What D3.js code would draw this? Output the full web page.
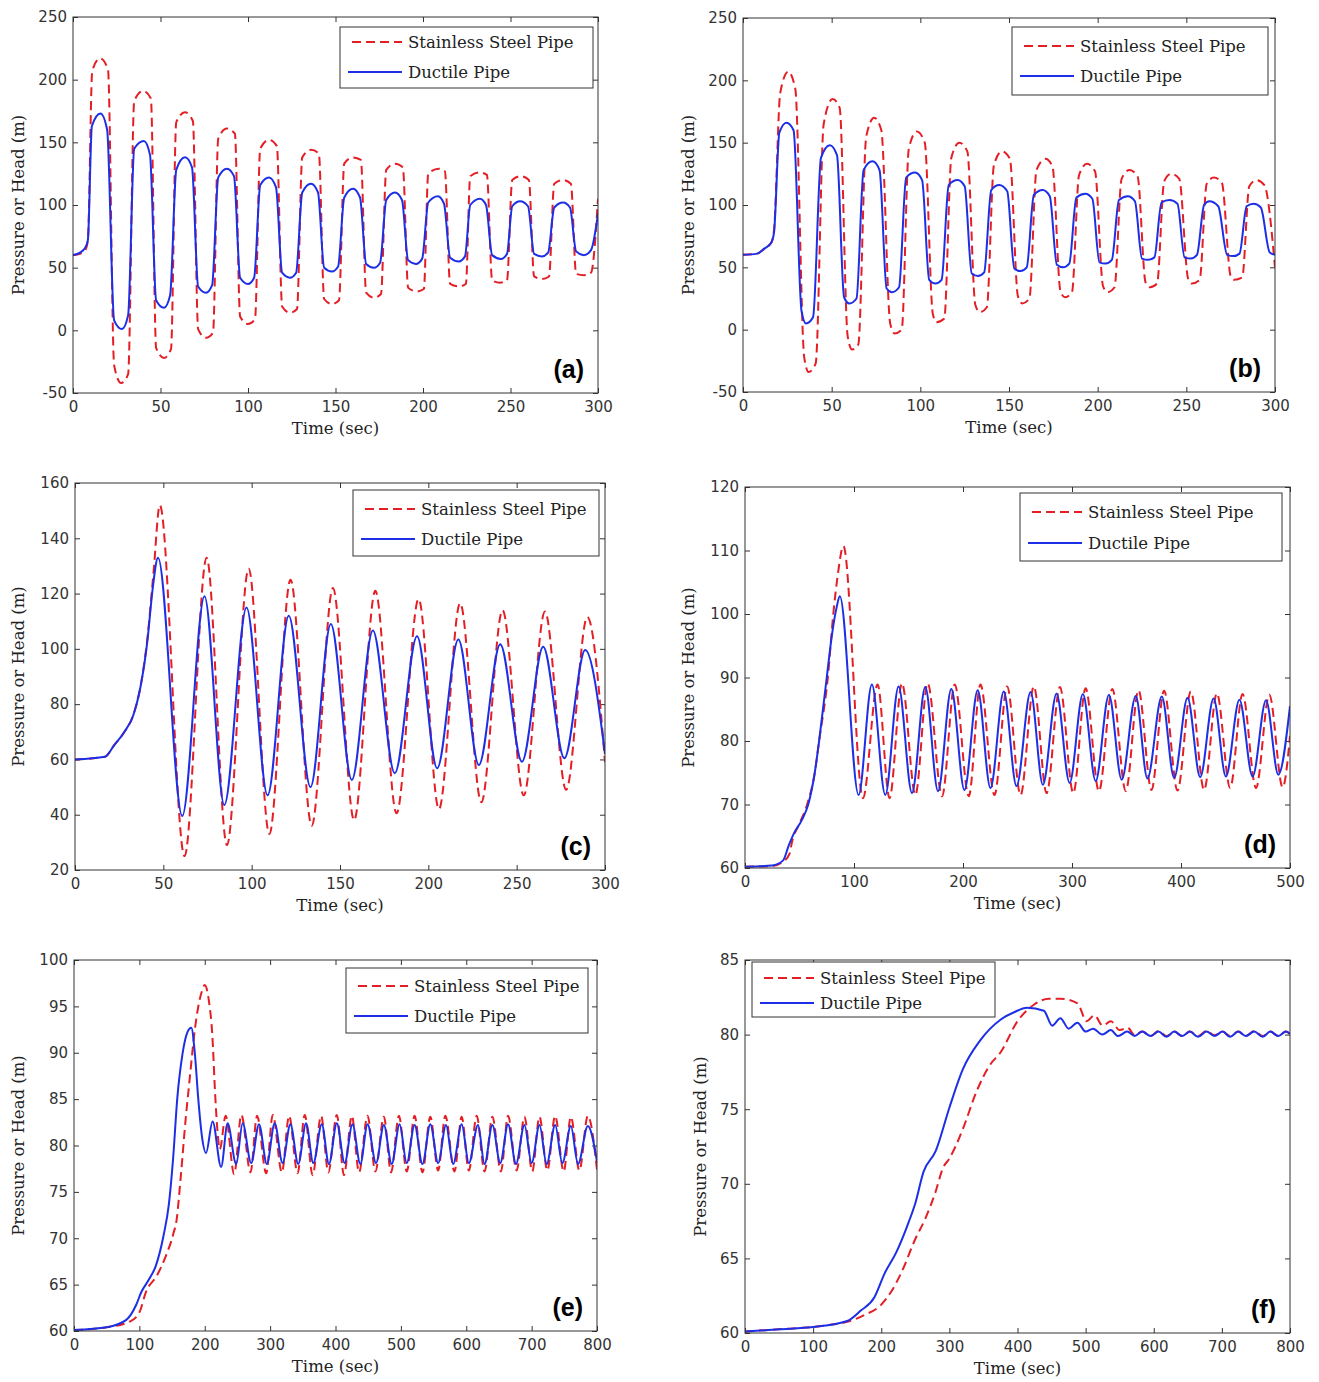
<!DOCTYPE html>
<html>
<head>
<meta charset="utf-8">
<script src="https://cdn.jsdelivr.net/npm/d3@7"></script>
<style>
  body { margin: 0; background: #fff; }
  svg { display: block; }
</style>
</head>
<body>
<svg id="fig" width="1319" height="1382"></svg>
<script>
// values, [time (sec), head (m)]
var steelA = [[0,60],[4,61],[7,64],[8.5,72],[11,207],[15.5,217],[20,208],[23.5,-28],[27.5,-42],[31.5,-35],[35,183],[40,191],[44.5,185],[47.5,-14],[52,-22],[56,-15],[59,166],[64,174],[68.5,167],[71.5,1],[76,-6],[80,-2],[83,153],[88,161],[92.5,157],[95.5,11],[100,5],[104,9],[107,145],[112,152],[116.5,147],[119.5,19],[124,14],[128,17],[131,138],[136,144],[140.5,141],[143.5,25],[148,21],[152,24],[155,133],[160,138],[164.5,136],[167.5,30],[172,26],[176,29],[179,128],[184,133],[188.5,130],[191.5,34],[196.5,31],[200.5,33],[203,125],[209,129],[212.5,127],[215.5,37],[220.5,35],[224.5,37],[227,123],[232.5,126],[236.5,124],[239.5,40],[244,38],[248,40],[251,120],[256,123],[260.5,120],[263.5,43],[268,41],[272,43],[275,117],[280,120],[284.5,117],[287.5,45],[292,44],[296,46],[300,105]];
var ductileA = [[0,60],[4,62],[7,66],[8.5,72],[10.8,163],[15.7,173],[19.5,160],[23.5,8],[28,1],[31.5,12],[35,145],[40.5,151],[44,140],[47.5,24],[52,18],[55.5,28],[59,128],[64,138],[68,130],[71.5,35],[76,30],[79.5,36],[83,122],[88,129],[92,123],[95.5,42],[100,37],[103.5,42],[107,116],[112,122],[116,114],[119.5,46],[124,42],[127.5,46],[131,110],[136,117],[140,110],[143.5,50],[148,47],[151.5,51],[155,106],[160,113],[164,106],[167.5,53],[172,50],[175.5,54],[179,104],[184,110],[188,104],[191.5,56],[196,53],[199.5,57],[203,102],[208.5,107],[212,101],[215.5,58],[220.5,55],[224,59],[227,100],[232.5,105],[236,100],[239.5,60],[244.5,57],[248,61],[251,99],[255.5,103],[260,99],[263.5,61],[268,59],[271.5,62],[275,98],[280,102],[284,98],[287.5,63],[292,60],[296,64],[300,93]];

var steelB = [[0,60],[8,61],[12,65],[16,70],[17.5,80],[21,190],[25.5,207],[29.5,193],[34.5,-22],[37,-34],[41,-27],[45.5,165],[50.5,185],[54.5,178],[59,-5],[61.5,-16],[65,-12],[69.5,155],[74,170],[78,160],[83,5],[85.5,-3],[89.5,0],[93.5,145],[98,159],[102.5,150],[107,13],[109,6],[113.5,9],[117.5,138],[122,150],[126.5,143],[131,20],[133.5,14],[137.5,18],[141.5,132],[146,143],[150.5,137],[155,27],[157.5,21],[161.5,25],[165.5,128],[170.5,137],[174.5,131],[179,31],[181.5,26],[185.5,30],[189.5,124],[194,133],[198.5,127],[203,35],[205.5,30],[209.5,34],[213.5,121],[218,128],[222.5,123],[227,38],[229.5,34],[233.5,37],[237.5,119],[241.5,125],[246,121],[251,41],[253,37],[257.5,40],[261.5,117],[265.5,122],[270,118],[275,43],[277,40],[281.5,42],[285.5,115],[289.5,120],[294,116],[300,50]];
var ductileB = [[0,60],[8,61],[12,65],[16,70],[17.5,78],[20.5,158],[24.5,166],[28.5,160],[33,15],[35.5,5],[39.5,10],[44,138],[49,148],[53,140],[57,26],[60,21],[64,25],[68,128],[73,135],[77,128],[81,33],[84,30],[88,34],[92,122],[97,126],[101,120],[105,40],[108.5,37],[112,40],[116,116],[121,120],[125,115],[129,45],[132.5,43],[136,46],[140,112],[144.5,116],[149,111],[153,49],[156.5,47],[160,50],[164,108],[169,112],[173,107],[177,52],[180.5,50],[184,53],[188,106],[193,109],[197,105],[201,54],[204.5,53],[208,56],[212,104],[217,107],[221,103],[225,57],[228.5,56],[232,58],[236,102],[240.5,104],[245,101],[249,58],[252.5,57],[256,60],[260,100],[263,103],[268,99],[273,60],[276.5,59],[280,61],[284,99],[288,101],[292,98],[297,62],[300,60]];

var steelC = [[0,60],[17,61],[22,65],[28,70],[33,76],[37,86],[41,104],[44.5,128],[48,152],[62,25],[74.5,133],[86,29],[98.3,129],[110,33],[122,125],[134,36],[146,122],[158,38],[170,121],[182,40.5],[194.5,118],[206,42],[218,116.5],[230,44.5],[242,114],[254,47],[266,113.5],[278,49],[290,111.5],[300,59]];
var ductileC = [[0,60],[17,61],[22,65],[28,70],[33,76],[37,86],[41,103],[44,122],[47,133],[60.7,39.5],[73.3,119],[84.5,43.5],[97.1,115],[109,47],[121,112],[133.3,50],[144.8,109],[156.7,52.6],[168.6,106.6],[181,55],[193.6,104.6],[205,56.8],[217,103.4],[228.6,58],[240.7,101.7],[253,59.2],[265,100.8],[277,60.4],[288.8,99.6],[300,62]];

var steelD = [[0,60.2],[25,60.3],[35,61],[41,62.3],[43,64],[50,67],[57,70],[64,75],[68,80],[76,90],[81,100],[85,106],[90.3,110.7],[108.2,71],[121.6,88.9],[132.6,71],[144,89.1],[156.3,71.5],[167.6,89.1],[180.8,71.3],[192.4,88.9],[205.3,71.3],[216,88.9],[228.9,71.5],[240.5,88.6],[252.8,71.5],[265,88.6],[276.7,71.8],[288.9,88.5],[301.2,71.8],[312.5,88.3],[324.7,72.1],[337,88.2],[349.3,72.1],[361,88],[372.9,72.3],[384.5,87.9],[396.8,72.2],[409,87.8],[421.2,72.3],[432.9,87.5],[445.1,72.6],[456.5,87.4],[468.8,72.6],[481,87.3],[493.3,72.7],[500,80.8]];
var ductileD = [[0,60.2],[25,60.4],[35,61.2],[40,63.5],[45,65.5],[52,67.5],[58,70],[64,75],[68,80],[75,90],[80,97],[84,101],[87,102.8],[104.2,71.5],[116.4,88.9],[128.7,71.5],[140.9,88.6],[153.2,71.8],[165.4,88.5],[177.1,72.1],[189.3,88.2],[201.3,72.3],[213.5,88],[225.2,72.6],[237.4,87.8],[249.1,72.9],[262,87.7],[273.3,73.1],[285.8,87.5],[297.8,73.4],[310,87.4],[321.7,73.7],[333.9,87.3],[345.6,73.9],[358.5,87.1],[369.2,74.1],[382.4,87],[393.7,74.2],[406,86.8],[417.6,74.3],[429.9,86.7],[441.2,74.4],[453.6,86.5],[465.7,74.4],[478,86.4],[489.3,74.7],[500,85.5]];

var steelE = [[0,60.1],[50,60.4],[85,61],[100,62],[110,64.2],[127,66],[140,68],[152,70.5],[157,72],[163,76.4],[171,83],[177,87.2],[185,92.6],[195.5,96.6],[200,97.3],[206.5,95.5],[211.5,92],[216,85.4],[219.5,81.5],[223,79.6],[232,83.2],[245,76.9],[256,83.3],[270,77.1],[280,83.2],[294,77],[304,83.3],[318,77.1],[329,83.2],[342,77],[353,83.3],[365,76.8],[378,83.2],[389,77.1],[402,83.3],[413,76.8],[425,83.2],[436,77.1],[449,83.2],[461,77.2],[474,83.1],[485,77.1],[497,83.2],[509,77.2],[521,83.2],[533,77.1],[545,83.1],[557,77.3],[568,83.2],[582,77.2],[593,83.1],[604,77.3],[616,83.2],[628,77.2],[640,83.1],[653,77.2],[664,83.2],[677,77.3],[689,83.1],[701,77.2],[712,83.1],[724,77.3],[736,83.2],[749,77.2],[760,83.1],[773,77.3],[786,83.2],[800,77.4]];
var ductileE = [[0,60.1],[50,60.4],[80,61.2],[95,62.8],[103,64.2],[115,65.6],[125,67],[137,70.3],[145,73.6],[151.6,78.6],[158,85.1],[165.8,89.8],[174,92.3],[179.4,92.7],[185,89.8],[190,85.1],[195.5,81.1],[202,79.2],[212,82.6],[225,77.7],[235,82.4],[248,78],[258,82.4],[271,78.1],[283,82.3],[295,78],[307,82.4],[319,78.1],[331,82.3],[343,78],[355,82.4],[366,78.1],[379,82.3],[390,78],[402,82.4],[414,78.1],[426,82.3],[438,78],[449,82.3],[462,78.1],[474,82.2],[486,78],[498,82.3],[509,78.1],[521,82.2],[533,78],[545,82.3],[557,78.1],[569,82.2],[580,78],[593,82.3],[604,78.1],[618,82.2],[628,78],[640,82.2],[652,78.1],[664,82.3],[676,78],[689,82.2],[700,78.1],[712,82.2],[723,78],[736,82.2],[747,78.1],[760,82.1],[771,78],[786,82.1],[800,78.3]];

var steelF = [[0,60.1],[50,60.25],[100,60.4],[125,60.55],[150,60.75],[175,61.2],[200,61.9],[215,62.8],[230,64.1],[250,66.3],[265,67.7],[280,69.5],[290,71],[300,71.7],[310,72.6],[320,73.7],[340,76.2],[360,78],[375,78.8],[400,80.9],[424,82],[446,82.4],[463,82.4],[488,82.1],[501.5,80.9],[513,81.3],[525,80.6],[537,80.9],[550,80.3],[562,80.45],[572,79.95],[583,80.2],[595.6,79.9],[607,80.25],[618.7,79.9],[630,80.2],[642,79.9],[653,80.2],[665,79.9],[677.5,80.25],[689,79.95],[701,80.2],[712,79.9],[724,80.2],[735,79.9],[747.5,80.25],[760,79.9],[771,80.2],[783,79.9],[794,80.2],[800,80.05]];
var ductileF = [[0,60.1],[50,60.25],[100,60.4],[150,60.8],[170,61.5],[190,62.4],[205,64],[222,65.4],[240,67.4],[250,68.7],[262,70.8],[280,72.2],[300,75.1],[320,77.7],[345,79.6],[375,81],[395,81.5],[414,81.8],[438.7,81.6],[451,80.6],[463,81.1],[475,80.4],[488,80.8],[500,80.2],[511,80.4],[524.5,80],[537,80.3],[547.5,79.9],[561,80.2],[572,79.9],[583,80.2],[595.6,79.9],[607,80.2],[618.7,79.85],[630,80.2],[642,79.9],[653,80.2],[665,79.85],[677.5,80.2],[689,79.9],[701,80.2],[712,79.85],[724,80.2],[735,79.9],[747.5,80.2],[760,79.85],[771,80.2],[783,79.9],[794,80.2],[800,80.05]];

// tick labels
var xTicks300 = [0,50,100,150,200,250,300];
var xTicks500 = [0,100,200,300,400,500];
var xTicks800 = [0,100,200,300,400,500,600,700,800];
var yTicksAB = [-50,0,50,100,150,200,250];
var yTicksC = [20,40,60,80,100,120,140,160];
var yTicksD = [60,70,80,90,100,110,120];
var yTicksE = [60,65,70,75,80,85,90,95,100];
var yTicksF = [60,65,70,75,80,85];

var seriesNames = ["Stainless Steel Pipe", "Ductile Pipe"];

// layout of each panel on the page
var panels = [
  {label:"(a)", left:73, top:17, w:525, h:376, xDom:[0,300], yDom:[-50,250], xTicks:xTicks300, yTicks:yTicksAB,
   steel:steelA, ductile:ductileA, ylabX:18, leg:{x:340, y:27, w:253, h:61, r1:15, r2:45}},
  {label:"(b)", left:743, top:18, w:532, h:374, xDom:[0,300], yDom:[-50,250], xTicks:xTicks300, yTicks:yTicksAB,
   steel:steelB, ductile:ductileB, ylabX:688, leg:{x:1012, y:27, w:256, h:68, r1:19, r2:49}},
  {label:"(c)", left:75, top:483, w:530, h:387, xDom:[0,300], yDom:[20,160], xTicks:xTicks300, yTicks:yTicksC,
   steel:steelC, ductile:ductileC, ylabX:18, leg:{x:353, y:490, w:246, h:66, r1:19, r2:49}},
  {label:"(d)", left:745, top:487, w:545, h:381, xDom:[0,500], yDom:[60,120], xTicks:xTicks500, yTicks:yTicksD,
   steel:steelD, ductile:ductileD, ylabX:688, leg:{x:1020, y:493, w:262, h:68, r1:19, r2:50}},
  {label:"(e)", left:74, top:960, w:523, h:371, xDom:[0,800], yDom:[60,100], xTicks:xTicks800, yTicks:yTicksE,
   steel:steelE, ductile:ductileE, ylabX:18, leg:{x:346, y:968, w:242, h:65, r1:18, r2:48}},
  {label:"(f)", left:745, top:960, w:545, h:373, xDom:[0,800], yDom:[60,85], xTicks:xTicks800, yTicks:yTicksF,
   steel:steelF, ductile:ductileF, ylabX:700, leg:{x:752, y:962, w:243, h:55, r1:16, r2:41}}
];

var RED = "#e41e25", BLUE = "#1c2fe6", AXIS = "#333";
var serif = "'DejaVu Serif', serif";
var sans = "'DejaVu Sans', sans-serif";

var svg = d3.select("#fig");

// plain hyphen for negatives, like the original
function plain(d) { return String(d); }

function styleAxis(g) {
  g.select(".domain").remove();
  g.selectAll(".tick line").attr("stroke", AXIS);
  g.selectAll("text").attr("fill", "#333");
  g.attr("font-family", sans).attr("font-size", 15);
}

function drawPanel(p, i) {
  var x = d3.scaleLinear().domain(p.xDom).range([0, p.w]);
  var y = d3.scaleLinear().domain(p.yDom).range([p.h, 0]);

  var g = svg.append("g").attr("transform", "translate(" + p.left + "," + p.top + ")");

  var clipId = "clip" + i;
  g.append("clipPath").attr("id", clipId)
    .append("rect").attr("width", p.w).attr("height", p.h);

  // axes, ticks point inwards on all four sides
  g.append("g").attr("transform", "translate(0," + p.h + ")")
    .call(d3.axisBottom(x).tickValues(p.xTicks).tickFormat(plain).tickSizeInner(-5).tickSizeOuter(0).tickPadding(8))
    .call(styleAxis);
  g.append("g")
    .call(d3.axisLeft(y).tickValues(p.yTicks).tickFormat(plain).tickSizeInner(-5).tickSizeOuter(0).tickPadding(6))
    .call(styleAxis);
  g.append("g")
    .call(d3.axisTop(x).tickValues(p.xTicks).tickSizeInner(-5).tickSizeOuter(0).tickFormat(""))
    .call(styleAxis);
  g.append("g").attr("transform", "translate(" + p.w + ",0)")
    .call(d3.axisRight(y).tickValues(p.yTicks).tickSizeInner(-5).tickSizeOuter(0).tickFormat(""))
    .call(styleAxis);

  var line = d3.line()
    .x(function(d) { return x(d[0]); })
    .y(function(d) { return y(d[1]); })
    .curve(d3.curveMonotoneX);

  var lines = g.append("g").attr("clip-path", "url(#" + clipId + ")");
  lines.append("path").datum(p.steel)
    .attr("d", line).attr("fill", "none")
    .attr("stroke", RED).attr("stroke-width", 2).attr("stroke-dasharray", "9,5");
  lines.append("path").datum(p.ductile)
    .attr("d", line).attr("fill", "none")
    .attr("stroke", BLUE).attr("stroke-width", 2);

  g.append("rect").attr("width", p.w).attr("height", p.h)
    .attr("fill", "none").attr("stroke", AXIS).attr("stroke-width", 1);

  // axis titles
  g.append("text")
    .attr("x", p.w / 2).attr("y", p.h + 41)
    .attr("text-anchor", "middle")
    .attr("font-family", serif).attr("font-size", 16.5).attr("fill", "#222")
    .text("Time (sec)");
  svg.append("text")
    .attr("transform", "translate(" + (p.ylabX + 6) + "," + (p.top + p.h / 2) + ") rotate(-90)")
    .attr("text-anchor", "middle")
    .attr("font-family", serif).attr("font-size", 16.5).attr("fill", "#222")
    .text("Pressure or Head (m)");

  // panel letter
  g.append("text")
    .attr("x", p.w - 14).attr("y", p.h - 15)
    .attr("text-anchor", "end")
    .attr("font-family", "'Liberation Sans', Arial, sans-serif")
    .attr("font-weight", "bold").attr("font-size", 25)
    .text(p.label);

  // legend
  var L = p.leg;
  var lg = svg.append("g").attr("transform", "translate(" + L.x + "," + L.y + ")");
  lg.append("rect").attr("width", L.w).attr("height", L.h)
    .attr("fill", "#fff").attr("stroke", AXIS).attr("stroke-width", 1);
  var rows = [
    {name: seriesNames[0], y: L.r1, color: RED, dash: "9,5", x1: 12},
    {name: seriesNames[1], y: L.r2, color: BLUE, dash: null, x1: 8}
  ];
  rows.forEach(function(r) {
    lg.append("line")
      .attr("x1", r.x1).attr("x2", 62).attr("y1", r.y).attr("y2", r.y)
      .attr("stroke", r.color).attr("stroke-width", 2)
      .attr("stroke-dasharray", r.dash);
    lg.append("text")
      .attr("x", 68).attr("y", r.y + 6)
      .attr("font-family", serif).attr("font-size", 16.5).attr("fill", "#222")
      .text(r.name);
  });
}

panels.forEach(drawPanel);
</script>
</body>
</html>
